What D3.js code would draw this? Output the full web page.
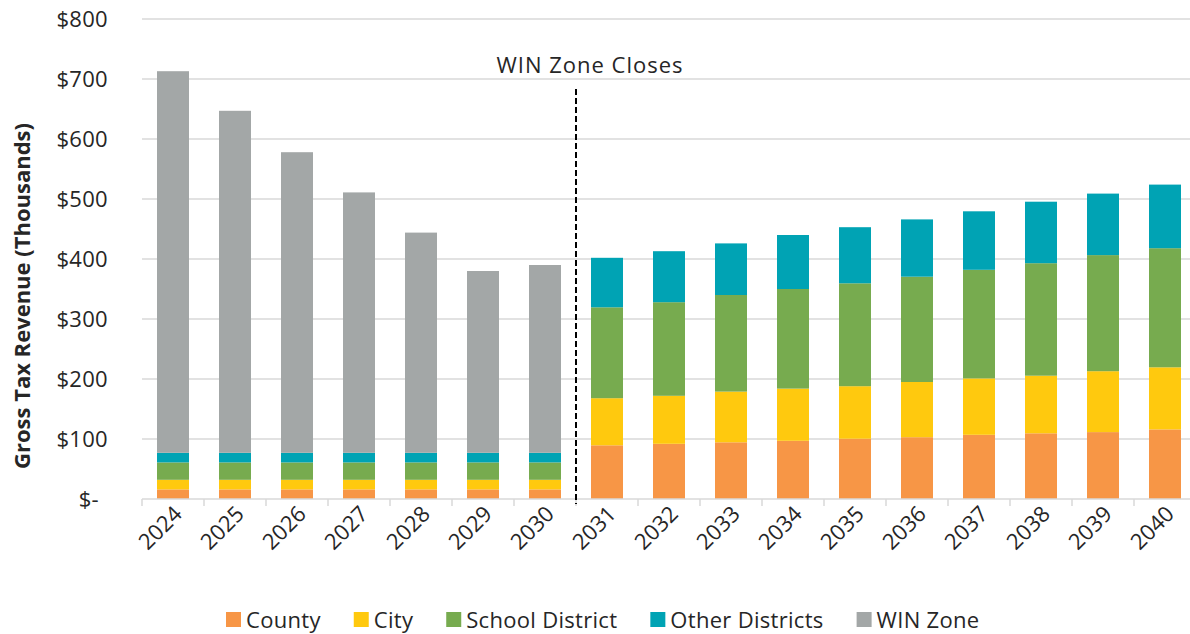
<!DOCTYPE html>
<html>
<head>
<meta charset="utf-8">
<title>Gross Tax Revenue</title>
<script src="https://cdn.jsdelivr.net/npm/d3@7"></script>
<style>
  body { margin: 0; background: #fff; }
  svg text { font-family: "Open Sans", "Noto Sans", sans-serif; fill: #262626; }
</style>
</head>
<body>
<svg id="chart" width="1190" height="634"></svg>
<script>
// data (thousands of dollars)
const years = ["2024","2025","2026","2027","2028","2029","2030","2031","2032","2033","2034","2035","2036","2037","2038","2039","2040"];
const county  = [16,16,16,16,16,16,16, 89.5,92,94.5,97,100.5,103,107,109.5,111.5,116];
const city    = [16,16,16,16,16,16,16, 78.5,80,84.5,87,87.5,92,94,96,101.5,103.5];
const school  = [29,29,29,29,29,29,29, 151.5,156,161,166,171.5,175.5,181,187.5,193.5,198.5];
const other   = [16,16,16,16,16,16,16, 82.5,85,86,90,93.5,95.5,97.5,102.5,102.5,106];
const winZone = [636,570,501,434,367,303,313, 0,0,0,0,0,0,0,0,0,0];
const yTicks = [0,100,200,300,400,500,600,700,800];
const seriesNames = ["County","City","School District","Other Districts","WIN Zone"];
const colors = ["#F79646","#FFC90E","#77AB4F","#00A3B4","#A3A7A7"];

const svg = d3.select("#chart");

// table for the stack
const table = years.map((yr, i) => ({
  year: yr,
  "County": county[i], "City": city[i], "School District": school[i],
  "Other Districts": other[i], "WIN Zone": winZone[i]
}));
const stacked = d3.stack().keys(seriesNames)(table);

const x = d3.scaleBand().domain(years).range([142, 142 + 17 * 62]).paddingInner(0.484).paddingOuter(0.242);
const y = d3.scaleLinear().domain([0, 800]).range([499, 19]);

// gridlines
svg.append("g").selectAll("line").data(yTicks.slice(1)).join("line")
  .attr("x1", 142).attr("x2", 1190)
  .attr("y1", d => y(d)).attr("y2", d => y(d))
  .attr("stroke", "#d9d9d9").attr("stroke-width", 1.5);

// y labels
svg.append("g").selectAll("text").data(yTicks).join("text")
  .attr("x", d => d === 0 ? 99 : 108)
  .attr("y", d => y(d))
  .attr("dy", "0.35em")
  .attr("text-anchor", "end")
  .style("font-size", "22px")
  .style("letter-spacing", "0.3px")
  .text(d => d === 0 ? "$-" : "$" + d);

// bars
svg.append("g").selectAll("g").data(stacked).join("g")
  .attr("fill", (d, i) => colors[i])
  .selectAll("rect").data(d => d).join("rect")
  .attr("x", d => x(d.data.year))
  .attr("width", x.bandwidth())
  .attr("y", d => y(d[1]))
  .attr("height", d => y(d[0]) - y(d[1]));

// x axis
const xAxis = svg.append("g").attr("transform", "translate(0,499)")
  .call(d3.axisBottom(x).tickSize(0).tickFormat(""));
xAxis.select(".domain").attr("stroke", "#d9d9d9").attr("stroke-width", 1.5).attr("d", "M142,0H1190");
// category boundary ticks
svg.append("g").selectAll("line").data(years).join("line")
  .attr("x1", d => x(d) - x.step() * x.paddingInner() / 2)
  .attr("x2", d => x(d) - x.step() * x.paddingInner() / 2)
  .attr("y1", 499).attr("y2", 506)
  .attr("stroke", "#d9d9d9").attr("stroke-width", 1.5);

svg.append("g").selectAll("text").data(years).join("text")
  .attr("transform", d => `translate(${x(d) + x.bandwidth() / 2 + 5},${510}) rotate(-45)`)
  .attr("text-anchor", "end")
  .attr("dy", "0.35em")
  .style("font-size", "22px")
  .text(d => d);

// WIN zone closes marker
const xClose = (x("2030") + x.bandwidth() + x("2031")) / 2;
svg.append("line")
  .attr("x1", xClose).attr("x2", xClose)
  .attr("y1", 89).attr("y2", 504)
  .attr("stroke", "#000").attr("stroke-width", 2)
  .attr("stroke-dasharray", "6,3");
svg.append("text")
  .attr("x", xClose + 14).attr("y", 65)
  .attr("dy", "0.35em")
  .attr("text-anchor", "middle")
  .style("font-size", "22px")
  .style("letter-spacing", "1px")
  .text("WIN Zone Closes");

// y axis title
svg.append("text")
  .attr("transform", "translate(22,296) rotate(-90)")
  .attr("text-anchor", "middle")
  .attr("dy", "0.35em")
  .style("font-size", "22px")
  .style("font-weight", "bold")
  .text("Gross Tax Revenue (Thousands)");

// legend
const legend = svg.append("g");
let lx = 226;
seriesNames.forEach((name, i) => {
  legend.append("rect").attr("x", lx).attr("y", 612).attr("width", 15).attr("height", 15).attr("fill", colors[i]);
  const t = legend.append("text").attr("x", lx + 20).attr("y", 620).attr("dy", "0.35em")
    .style("font-size", "22px").style("letter-spacing", "0.3px").text(name);
  lx += 20 + t.node().getComputedTextLength() + 33;
});
</script>
</body>
</html>
